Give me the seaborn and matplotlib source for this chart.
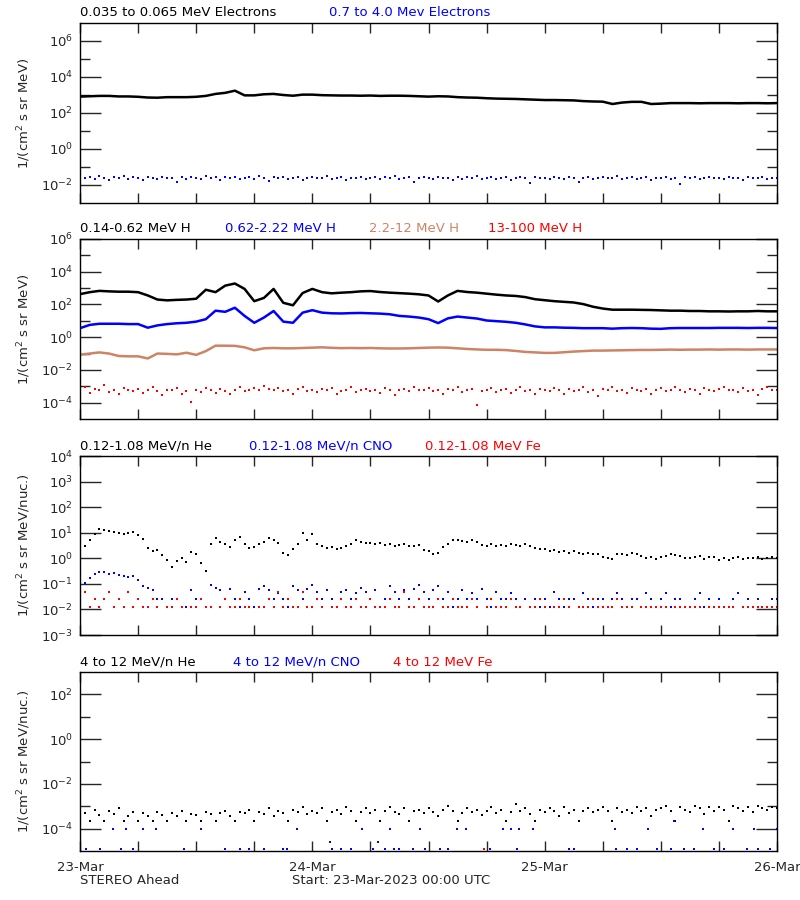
import matplotlib
matplotlib.use("Agg")
import matplotlib.pyplot as plt
import matplotlib.dates as mdates
from matplotlib.ticker import FixedLocator, FuncFormatter, NullFormatter
import numpy as np
import pandas as pd
import seaborn as sns

nan = np.nan
START = pd.Timestamp("2023-03-23 00:00")
END = START + pd.Timedelta(hours=72)

# time bases: hourly for the smooth channels, half-hourly for the noisy ones
hours = pd.date_range(START, periods=73, freq="h")
half_hours = pd.date_range(START, periods=145, freq="30min")

# all fluxes below are log10 values

# panel 1: electrons
e_low = [2.91, 2.93, 2.95, 2.95, 2.92, 2.92, 2.90, 2.86, 2.85, 2.88, 2.88, 2.88,
         2.90, 2.95, 3.06, 3.12, 3.24, 2.98, 2.98, 3.04, 3.06, 3.00, 2.96, 3.02,
         3.02, 2.99, 2.98, 2.97, 2.97, 2.96, 2.97, 2.95, 2.96, 2.96, 2.95, 2.93,
         2.91, 2.93, 2.92, 2.88, 2.86, 2.85, 2.82, 2.80, 2.79, 2.78, 2.76, 2.74,
         2.72, 2.72, 2.71, 2.70, 2.66, 2.64, 2.63, 2.50, 2.58, 2.62, 2.62, 2.50,
         2.52, 2.55, 2.55, 2.55, 2.54, 2.55, 2.55, 2.55, 2.54, 2.55, 2.55, 2.54,
         2.55]
e_high = [-1.55, -1.62, -1.58, -1.66, -1.52, -1.60, -1.70, -1.57, -1.63, -1.50, -1.66, -1.58,
          -1.61, -1.74, -1.55, -1.60, -1.68, -1.53, -1.62, -1.59, -1.83, -1.57, -1.64, -1.55,
          -1.60, -1.67, -1.52, -1.63, -1.58, -1.72, -1.56, -1.61, -1.54, -1.69, -1.60, -1.57,
          -1.64, -1.51, -1.62, -1.78, -1.58, -1.60, -1.55, -1.66, -1.61, -1.53, -1.70, -1.59,
          -1.57, -1.63, -1.60, -1.52, -1.68, -1.62, -1.56, -1.73, -1.59, -1.61, -1.54, -1.65,
          -1.60, -1.58, -1.69, -1.55, -1.62, -1.50, -1.66, -1.60, -1.57, -1.81, -1.63, -1.56,
          -1.59, -1.66, -1.53, -1.62, -1.60, -1.71, -1.56, -1.64, -1.58, -1.61, -1.52, -1.67,
          -1.62, -1.57, -1.65, -1.60, -1.55, -1.70, -1.60, -1.58, -1.63, -1.90, -1.56, -1.62,
          -1.59, -1.64, -1.55, -1.61, -1.68, -1.57, -1.62, -1.85, -1.59, -1.54, -1.66, -1.60,
          -1.57, -1.63, -1.60, -1.52, -1.67, -1.61, -1.58, -1.65, -1.60, -1.55, -1.70, -1.59,
          -1.62, -1.56, -1.64, -1.60, -1.95, -1.58, -1.61, -1.53, -1.66, -1.60, -1.57, -1.63,
          -1.60, -1.67, -1.55, -1.62, -1.59, -1.71, -1.56, -1.63, -1.60, -1.58, -1.66, -1.62,
          -1.60]

# panel 2: protons
h_1 = [2.63, 2.75, 2.83, 2.80, 2.78, 2.78, 2.75, 2.55, 2.30, 2.25, 2.28, 2.30,
       2.35, 2.90, 2.75, 3.15, 3.28, 2.95, 2.20, 2.40, 2.95, 2.10, 1.95, 2.70,
       2.95, 2.75, 2.68, 2.72, 2.75, 2.80, 2.82, 2.76, 2.72, 2.69, 2.66, 2.62,
       2.55, 2.18, 2.55, 2.83, 2.76, 2.72, 2.66, 2.60, 2.55, 2.52, 2.45, 2.32,
       2.26, 2.20, 2.16, 2.12, 2.02, 1.86, 1.75, 1.68, 1.68, 1.68, 1.67, 1.66,
       1.64, 1.62, 1.62, 1.60, 1.60, 1.58, 1.58, 1.57, 1.58, 1.58, 1.60, 1.58,
       1.58]
h_2 = [0.55, 0.75, 0.82, 0.82, 0.82, 0.80, 0.80, 0.58, 0.72, 0.80, 0.85, 0.88,
       0.95, 1.10, 1.62, 1.55, 1.80, 1.30, 0.88, 1.20, 1.60, 0.95, 0.88, 1.50,
       1.65, 1.50, 1.46, 1.45, 1.47, 1.48, 1.46, 1.44, 1.40, 1.30, 1.26, 1.20,
       1.10, 0.86, 1.15, 1.26, 1.20, 1.14, 1.02, 0.98, 0.94, 0.88, 0.78, 0.66,
       0.60, 0.60, 0.58, 0.57, 0.55, 0.55, 0.55, 0.52, 0.55, 0.56, 0.55, 0.52,
       0.51, 0.55, 0.56, 0.56, 0.56, 0.56, 0.57, 0.57, 0.57, 0.56, 0.57, 0.57,
       0.56]
h_3 = [-1.07, -1.00, -0.93, -1.00, -1.15, -1.17, -1.17, -1.30, -1.00, -1.02, -1.05, -0.95,
       -1.08, -0.85, -0.52, -0.52, -0.53, -0.62, -0.80, -0.68, -0.66, -0.68, -0.68, -0.66,
       -0.64, -0.62, -0.65, -0.67, -0.66, -0.67, -0.66, -0.68, -0.69, -0.69, -0.68, -0.66,
       -0.64, -0.63, -0.64, -0.68, -0.72, -0.75, -0.77, -0.77, -0.79, -0.84, -0.90, -0.93,
       -0.96, -0.96, -0.92, -0.88, -0.85, -0.82, -0.82, -0.81, -0.80, -0.79, -0.78, -0.78,
       -0.77, -0.76, -0.77, -0.76, -0.76, -0.75, -0.76, -0.75, -0.75, -0.76, -0.75, -0.75,
       -0.75]
h_4 = [-3.30, -3.05, -3.40, -3.15, -3.25, -2.95, -3.35, -3.20, -3.50, -3.10, -3.25, -3.30,
       -3.15, -3.40, -3.20, -3.05, -3.30, -3.55, -3.20, -3.25, -3.10, -3.45, -3.30, -3.95,
       -3.20, -3.35, -3.10, -3.25, -3.40, -3.15, -3.30, -3.50, -3.20, -3.05, -3.30, -3.25,
       -3.10, -3.20, -3.00, -3.15, -3.25, -3.10, -3.30, -3.20, -3.45, -3.15, -3.05, -3.30,
       -3.20, -3.35, -3.15, -3.25, -3.10, -3.45, -3.30, -3.20, -3.05, -3.35, -3.25, -3.15,
       -3.30, -3.20, -3.40, -3.10, -3.25, -3.55, -3.20, -3.15, -3.30, -3.05, -3.25, -3.20,
       -3.10, -3.30, -3.20, -3.45, -3.15, -3.25, -3.05, -3.35, -3.20, -3.15, -4.15, -3.30,
       -3.25, -3.10, -3.35, -3.20, -3.15, -3.40, -3.25, -3.05, -3.30, -3.20, -3.50, -3.15,
       -3.20, -3.30, -3.10, -3.25, -3.45, -3.15, -3.30, -3.20, -3.05, -3.35, -3.25, -3.60,
       -3.15, -3.25, -3.05, -3.30, -3.20, -3.40, -3.10, -3.25, -3.30, -3.15, -3.50, -3.20,
       -3.10, -3.30, -3.20, -3.05, -3.25, -3.35, -3.15, -3.20, -3.45, -3.10, -3.25, -3.30,
       -3.15, -3.05, -3.25, -3.20, -3.35, -3.10, -3.30, -3.20, -3.55, -3.15, -3.05, -3.25,
       -3.20]

# panel 3: low energy ions
he_low = [0.62, 0.50, 0.72, 0.95, 1.15, 1.10, 1.05, 1.02, 0.98, 0.95, 1.00, 1.04,
          0.92, 0.75, 0.42, 0.30, 0.32, 0.12, -0.05, -0.35, -0.10, 0.00, -0.15, 0.25,
          0.15, -0.20, -0.50, 0.55, 0.78, 0.62, 0.55, 0.45, 0.70, 0.82, 0.55, 0.40,
          0.45, 0.55, 0.62, 0.78, 0.70, 0.58, 0.22, 0.12, 0.35, 0.55, 0.98, 0.70,
          0.95, 0.55, 0.50, 0.42, 0.45, 0.38, 0.40, 0.50, 0.55, 0.72, 0.62, 0.58,
          0.60, 0.55, 0.58, 0.52, 0.56, 0.50, 0.52, 0.55, 0.48, 0.50, 0.52, 0.33,
          0.28, 0.15, 0.22, 0.45, 0.55, 0.70, 0.72, 0.68, 0.65, 0.70, 0.62, 0.52,
          0.50, 0.55, 0.48, 0.52, 0.50, 0.55, 0.52, 0.48, 0.55, 0.50, 0.40, 0.35,
          0.38, 0.30, 0.32, 0.26, 0.30, 0.22, 0.28, 0.20, 0.18, 0.22, 0.15, 0.18,
          0.05, 0.00, -0.02, 0.15, 0.18, 0.12, 0.20, 0.15, 0.10, 0.02, 0.05, -0.02,
          0.05, 0.10, 0.15, 0.12, 0.08, 0.02, 0.00, 0.05, 0.10, -0.02, 0.04, 0.06,
          -0.05, 0.00, -0.08, 0.02, 0.05, -0.02, 0.00, 0.03, 0.05, -0.01, 0.02, 0.04,
          0.03]
cno_low = [-1.05, -0.95, -0.78, -0.62, -0.55, -0.55, -0.60, -0.58, -0.66, -0.70, -0.72, -0.68,
           -0.85, -1.10, -1.15, -1.25, -1.60, -1.60, -1.92, -1.60, -1.60, nan, -1.92, -1.25,
           -1.60, -1.60, -1.92, -1.05, -1.15, -1.25, -1.60, -1.20, -1.60, -1.92, -1.30, -1.60,
           -1.92, -1.20, -1.10, -1.25, -1.60, -1.35, -1.60, -1.92, -1.10, -1.25, -1.60, -1.20,
           -1.05, -1.30, -1.60, -1.25, -1.60, -1.92, -1.30, -1.25, -1.60, -1.35, -1.15, -1.30,
           -1.60, -1.25, -1.92, -1.60, -1.10, -1.30, -1.60, -1.25, -1.60, -1.20, -1.05, -1.30,
           -1.60, -1.25, -1.10, -1.60, -1.30, -1.92, -1.60, -1.25, -1.60, -1.35, -1.60, -1.20,
           -1.60, -1.92, -1.30, -1.60, -1.60, -1.35, -1.60, -1.92, -1.60, nan, -1.60, -1.92,
           -1.60, -1.92, -1.30, -1.60, -1.92, -1.60, -1.60, -1.92, -1.35, -1.60, -1.92, -1.60,
           -1.60, -1.92, -1.60, -1.35, -1.60, -1.92, -1.60, -1.60, -1.92, -1.35, -1.60, -1.92,
           -1.60, -1.35, -1.92, -1.60, -1.60, -1.92, -1.92, -1.60, -1.35, -1.92, -1.60, -1.92,
           -1.60, -1.92, -1.92, -1.60, -1.35, -1.92, -1.60, -1.92, -1.60, -1.92, -1.92, -1.60,
           -1.60]
fe_low = [-1.92, -1.30, -1.92, -1.60, -1.92, -1.60, -1.30, -1.92, -1.60, -1.92, -1.30, -1.92,
          -1.60, -1.92, -1.92, -1.60, -1.92, nan, -1.92, -1.92, -1.60, -1.92, nan, -1.92,
          -1.92, -1.60, -1.92, -1.92, nan, -1.92, -1.60, -1.92, -1.92, -1.60, -1.92, -1.92,
          nan, -1.92, -1.92, -1.60, -1.92, -1.30, -1.92, -1.60, -1.92, -1.92, -1.30, -1.92,
          -1.92, -1.60, -1.92, nan, -1.92, -1.92, -1.60, -1.92, -1.92, -1.60, -1.92, -1.92,
          -1.60, -1.92, -1.92, -1.92, -1.60, -1.92, -1.92, -1.30, -1.92, -1.92, -1.60, -1.92,
          -1.92, -1.92, -1.60, -1.92, -1.92, -1.60, -1.92, -1.92, -1.92, -1.60, -1.92, nan,
          -1.92, -1.60, -1.92, -1.92, -1.92, -1.60, -1.92, -1.92, nan, -1.92, -1.92, -1.60,
          -1.92, nan, -1.92, -1.92, -1.60, -1.92, nan, -1.92, -1.92, -1.92, -1.60, -1.92,
          -1.92, -1.92, -1.92, -1.60, -1.92, -1.92, -1.92, nan, -1.92, -1.92, -1.92, -1.92,
          -1.92, -1.92, nan, -1.92, -1.92, -1.92, -1.92, -1.92, -1.92, nan, -1.92, -1.92,
          -1.92, -1.92, -1.92, -1.92, nan, -1.92, -1.92, -1.92, -1.92, -1.92, -1.92, -1.92,
          -1.92]

# panel 4: high energy ions
he_high = [-3.05, -3.30, -3.68, -3.15, -3.40, -3.68, -3.20, -3.35, -3.10, -3.68, -3.45, -3.25,
           -3.68, -3.30, -3.45, -3.68, -3.25, -3.40, -3.68, -3.30, -3.45, -3.20, -3.68, -3.35,
           -3.40, -3.68, -3.25, -3.35, -3.68, -3.30, -3.20, -3.45, -3.68, -3.25, -3.30, -3.15,
           -3.68, -3.25, -3.35, -3.10, -3.45, -3.20, -3.30, -3.68, -3.15, -3.25, -3.05, -3.35,
           -3.20, -3.30, -3.10, -3.68, -3.25, -3.15, -3.35, -3.05, -3.20, -3.68, -3.25, -3.10,
           -3.30, -3.15, -3.68, -3.20, -3.05, -3.25, -3.35, -3.10, -3.68, -3.20, -3.15, -3.30,
           -3.10, -3.25, -3.45, -3.15, -3.00, -3.20, -3.68, -3.30, -3.10, -3.25, -3.15, -3.40,
           -3.20, -3.05, -3.30, -3.15, -3.68, -3.25, -2.90, -3.20, -3.10, -3.35, -3.68, -3.15,
           -3.25, -3.10, -3.20, -3.45, -3.05, -3.30, -3.15, -3.68, -3.20, -3.10, -3.25, -3.15,
           -3.05, -3.20, -3.68, -3.10, -3.25, -3.15, -3.30, -3.05, -3.20, -3.10, -3.45, -3.15,
           -3.10, -3.00, -3.20, -3.68, -3.05, -3.15, -3.25, -3.00, -3.10, -3.35, -3.05, -3.20,
           -3.05, -3.15, -3.68, -3.00, -3.10, -3.20, -3.05, -3.25, -3.00, -3.10, -3.15, -3.05,
           -3.10]
cno_high_hours = [0.6, 2.1, 3.4, 4.2, 4.8, 5.5, 6.5, 7.9, 10.7, 12.5, 15.0, 16.5, 17.5, 19.0,
                  21.0, 21.4, 22.4, 25.8, 26.0, 27.0, 28.0, 29.1, 30.3, 30.8, 31.5, 32.0, 32.4,
                  33.0, 34.4, 35.1, 35.6, 37.2, 38.0, 38.9, 39.9, 42.4, 43.7, 44.5, 45.1, 45.4,
                  46.8, 50.5, 51.0, 55.3, 55.4, 56.5, 57.5, 58.7, 59.6, 61.0, 61.4, 62.4, 63.4,
                  64.4, 65.5, 66.5, 67.5, 68.9, 69.6, 70.0, 71.3, 72.0]
cno_high = [-4.9, -4.9, -4.0, -4.9, -4.0, -4.9, -4.0, -4.0, -4.9, -4.0, -4.9, -4.9, -4.9, -4.9,
            -4.9, -4.9, -4.0, -4.58, -4.9, -4.9, -4.9, -4.0, -4.9, -4.58, -4.9, -4.0, -4.9,
            -4.9, -4.9, -4.0, -4.9, -4.9, -4.9, -4.0, -4.0, -4.9, -4.0, -4.0, -4.9, -4.0,
            -4.0, -4.9, -4.9, -4.0, -4.9, -4.9, -4.9, -4.0, -4.9, -4.9, -3.64, -4.9, -4.9,
            -4.0, -4.9, -4.9, -4.0, -4.9, -4.0, -4.9, -4.9, -4.0]
fe_high_hours = [41.7]
fe_high = [-4.9]

BLACK = "black"
BLUE = "#0000ff"
BROWN = "#cd8466"
RED = "#ff0000"


def to_frame(times, logs):
    df = pd.DataFrame({"time": times, "flux": 10.0 ** np.array(logs, dtype=float)})
    return df.dropna()


def draw_line(ax, times, logs, color):
    sns.lineplot(data=to_frame(times, logs), x="time", y="flux", color=color,
                 lw=1.8, estimator=None, ax=ax)


def draw_dots(ax, times, logs, color):
    sns.scatterplot(data=to_frame(times, logs), x="time", y="flux", color=color,
                    marker="s", s=4.5, linewidth=0, ax=ax)


def setup(ax, ylo, yhi, majors, minors, ylabel, last=False):
    ax.set_yscale("log")
    ax.set_ylim(10.0 ** ylo, 10.0 ** yhi)
    ax.set_xlim(START.to_pydatetime(), END.to_pydatetime())
    ax.yaxis.set_major_locator(FixedLocator([10.0 ** p for p in majors]))
    ax.yaxis.set_minor_locator(FixedLocator([10.0 ** p for p in minors]))
    ax.yaxis.set_major_formatter(FuncFormatter(
        lambda v, pos: "$10^{%d}$" % int(round(np.log10(v)))))
    ax.yaxis.set_minor_formatter(NullFormatter())
    ax.xaxis.set_major_locator(mdates.DayLocator())
    ax.xaxis.set_minor_locator(mdates.HourLocator(byhour=[6, 12, 18]))
    ax.xaxis.set_major_formatter(mdates.DateFormatter("%d-%b"))
    ax.tick_params(axis="y", which="major", direction="in", length=15, width=1,
                   left=True, right=True, labelsize=9.5, pad=5)
    ax.tick_params(axis="y", which="minor", direction="in", length=7.5, width=1,
                   left=True, right=True)
    ax.tick_params(axis="x", which="both", direction="in", length=7, width=1,
                   top=True, bottom=True, labelbottom=last, labelsize=9.5, pad=7)
    ax.set_xlabel("")
    ax.set_ylabel(ylabel, fontsize=9.5, labelpad=6)
    for sp in ax.spines.values():
        sp.set_linewidth(1)
        sp.set_color("black")


def titles(fig, y_px, items):
    for text, color, x_px in items:
        fig.text(x_px / 800, 1 - y_px / 900, text, color=color, fontsize=9.5,
                 ha="left", va="center")


sns.set_style("ticks")
plt.rcParams["font.family"] = ["DejaVu Sans"]

fig = plt.figure(figsize=(8, 9), dpi=100)
left, width = 80 / 800, 697 / 800


def panel(top_px, bottom_px):
    return fig.add_axes([left, 1 - bottom_px / 900, width, (bottom_px - top_px) / 900])


ax1 = panel(23, 203)
ax2 = panel(239, 419)
ax3 = panel(456, 635)
ax4 = panel(672, 851)

# panel 1
draw_line(ax1, hours, e_low, BLACK)
draw_dots(ax1, half_hours, e_high, BLUE)
setup(ax1, -3, 7, [-2, 0, 2, 4, 6], [-1, 1, 3, 5], "1/(cm$^2$ s sr MeV)")
titles(fig, 13, [("0.035 to 0.065 MeV Electrons", BLACK, 80),
                 ("0.7 to 4.0 Mev Electrons", BLUE, 329)])

# panel 2
draw_line(ax2, hours, h_1, BLACK)
draw_line(ax2, hours, h_2, BLUE)
draw_line(ax2, hours, h_3, BROWN)
draw_dots(ax2, half_hours, h_4, RED)
setup(ax2, -5, 6, [-4, -2, 0, 2, 4, 6], [-3, -1, 1, 3, 5], "1/(cm$^2$ s sr MeV)")
titles(fig, 229, [("0.14-0.62 MeV H", BLACK, 80),
                  ("0.62-2.22 MeV H", BLUE, 225),
                  ("2.2-12 MeV H", BROWN, 369),
                  ("13-100 MeV H", RED, 488)])

# panel 3
draw_dots(ax3, half_hours, he_low, BLACK)
draw_dots(ax3, half_hours, cno_low, BLUE)
draw_dots(ax3, half_hours, fe_low, RED)
setup(ax3, -3, 4, [-3, -2, -1, 0, 1, 2, 3, 4], [], "1/(cm$^2$ s sr MeV/nuc.)")
titles(fig, 446, [("0.12-1.08 MeV/n He", BLACK, 80),
                  ("0.12-1.08 MeV/n CNO", BLUE, 249),
                  ("0.12-1.08 MeV Fe", RED, 425)])

# panel 4
cno_times = START + pd.to_timedelta(cno_high_hours, unit="h")
fe_times = START + pd.to_timedelta(fe_high_hours, unit="h")
draw_dots(ax4, half_hours, he_high, BLACK)
draw_dots(ax4, cno_times, cno_high, BLUE)
draw_dots(ax4, fe_times, fe_high, RED)
setup(ax4, -5, 3, [-4, -2, 0, 2], [-3, -1, 1], "1/(cm$^2$ s sr MeV/nuc.)", last=True)
titles(fig, 662, [("4 to 12 MeV/n He", BLACK, 80),
                  ("4 to 12 MeV/n CNO", BLUE, 233),
                  ("4 to 12 MeV Fe", RED, 393)])

fig.text(80 / 800, 1 - 881 / 900, "STEREO Ahead", fontsize=9.5, ha="left", va="center")
fig.text(292 / 800, 1 - 881 / 900, "Start: 23-Mar-2023 00:00 UTC", fontsize=9.5,
         ha="left", va="center")

fig.savefig("out.png", dpi=100)
